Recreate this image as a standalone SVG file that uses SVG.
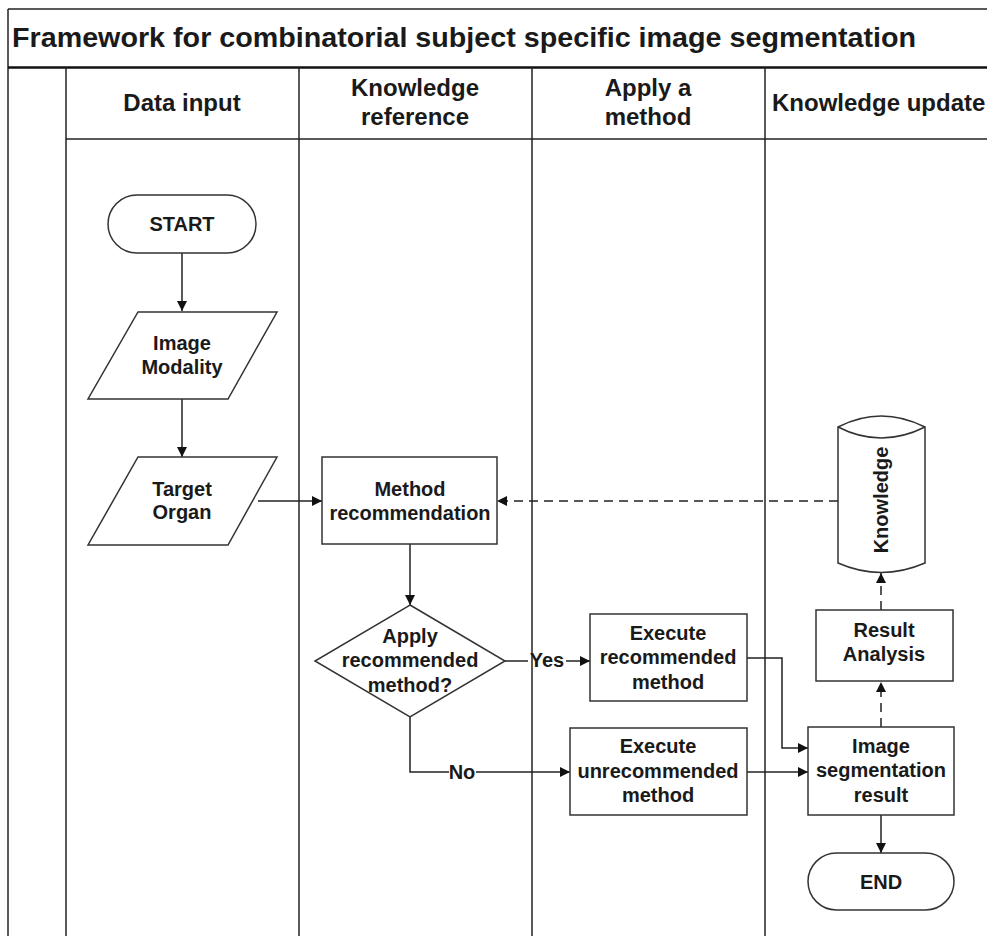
<svg xmlns="http://www.w3.org/2000/svg" width="987" height="936" viewBox="0 0 987 936">
  <defs>
    <style>
      .lane { stroke: #222; stroke-width: 1.5; fill: none; }
      .shape { fill: #fff; stroke: #333; stroke-width: 1.5; }
      .conn { stroke: #222; stroke-width: 1.5; fill: none; }
      .dash { stroke-dasharray: 9 6; }
      text { font-family: "Liberation Sans", Arial, sans-serif; font-weight: bold; fill: #1a1a1a; }
      .title { font-size: 28px; }
      .hdr { font-size: 24px; text-anchor: middle; }
      .lbl { font-size: 20px; text-anchor: middle; }
    </style>
    <marker id="arrow" viewBox="0 0 10 10" refX="10" refY="5" markerWidth="10" markerHeight="10" markerUnits="userSpaceOnUse" orient="auto">
      <path d="M0,0 L10,5 L0,10 z" fill="#111"/>
    </marker>
  </defs>

  <rect width="987" height="936" fill="#fff"/>

  <!-- pool frame and swimlanes -->
  <g id="pool">
    <line class="lane" x1="8" y1="9" x2="987" y2="9"/>
    <line class="lane" x1="8" y1="9" x2="8" y2="936"/>
    <line x1="8" y1="67.5" x2="987" y2="67.5" stroke="#111" stroke-width="2.5"/>
    <line class="lane" x1="66" y1="67" x2="66" y2="936"/>
    <line class="lane" x1="299" y1="67" x2="299" y2="936"/>
    <line class="lane" x1="532" y1="67" x2="532" y2="936"/>
    <line class="lane" x1="765" y1="67" x2="765" y2="936"/>
    <line class="lane" x1="66" y1="139" x2="987" y2="139"/>
    <text class="title" x="12" y="47" textLength="904" lengthAdjust="spacingAndGlyphs">Framework for combinatorial subject specific image segmentation</text>
    <text class="hdr" x="182" y="111">Data input</text>
    <text class="hdr" x="415" y="96">Knowledge</text>
    <text class="hdr" x="415" y="125">reference</text>
    <text class="hdr" x="648" y="96">Apply a</text>
    <text class="hdr" x="648" y="125">method</text>
    <text class="hdr" x="772" y="111" style="text-anchor:start">Knowledge update</text>
  </g>

  <!-- connectors -->
  <g id="connectors">
    <line class="conn" x1="182" y1="253" x2="182" y2="311" marker-end="url(#arrow)"/>
    <line class="conn" x1="182" y1="399" x2="182" y2="457" marker-end="url(#arrow)"/>
    <line class="conn" x1="258" y1="501" x2="322" y2="501" marker-end="url(#arrow)"/>
    <line class="conn dash" x1="838" y1="501" x2="497" y2="501" marker-end="url(#arrow)"/>
    <line class="conn" x1="410" y1="544" x2="410" y2="605" marker-end="url(#arrow)"/>
    <line class="conn" x1="505" y1="661" x2="528" y2="661"/>
    <line class="conn" x1="566" y1="661" x2="590" y2="661" marker-end="url(#arrow)"/>
    <polyline class="conn" points="410,717 410,772 449,772"/>
    <line class="conn" x1="476" y1="772" x2="570" y2="772" marker-end="url(#arrow)"/>
    <polyline class="conn" points="747,658 782,658 782,748 808,748" marker-end="url(#arrow)"/>
    <line class="conn" x1="747" y1="772" x2="808" y2="772" marker-end="url(#arrow)"/>
    <line class="conn" x1="881" y1="815" x2="881" y2="853" marker-end="url(#arrow)"/>
    <line class="conn dash" x1="881" y1="727" x2="881" y2="682" marker-end="url(#arrow)"/>
    <line class="conn dash" x1="881" y1="610" x2="881" y2="573" marker-end="url(#arrow)"/>
    <text class="lbl" x="547" y="667">Yes</text>
    <text class="lbl" x="462" y="779">No</text>
  </g>

  <g id="start">
    <rect class="shape" x="108" y="195" width="148" height="58" rx="29" ry="29"/>
    <text class="lbl" x="182" y="231">START</text>
  </g>

  <g id="image-modality">
    <polygon class="shape" points="138,312 277,312 228,399 88,399"/>
    <text class="lbl" x="182" y="350">Image</text>
    <text class="lbl" x="182" y="374">Modality</text>
  </g>

  <g id="target-organ">
    <polygon class="shape" points="138,457 277,457 228,545 88,545"/>
    <text class="lbl" x="182" y="496">Target</text>
    <text class="lbl" x="182" y="519">Organ</text>
  </g>

  <g id="method-recommendation">
    <rect class="shape" x="322" y="457" width="175" height="87"/>
    <text class="lbl" x="410" y="496">Method</text>
    <text class="lbl" x="410" y="520">recommendation</text>
  </g>

  <g id="apply-decision">
    <polygon class="shape" points="410,605 505,661 410,717 315,661"/>
    <text class="lbl" x="410" y="643">Apply</text>
    <text class="lbl" x="410" y="667">recommended</text>
    <text class="lbl" x="410" y="692">method?</text>
  </g>

  <g id="execute-recommended">
    <rect class="shape" x="590" y="614" width="157" height="87"/>
    <text class="lbl" x="668" y="640">Execute</text>
    <text class="lbl" x="668" y="664">recommended</text>
    <text class="lbl" x="668" y="689">method</text>
  </g>

  <g id="execute-unrecommended">
    <rect class="shape" x="570" y="728" width="177" height="87"/>
    <text class="lbl" x="658" y="753">Execute</text>
    <text class="lbl" x="658" y="778">unrecommended</text>
    <text class="lbl" x="658" y="802">method</text>
  </g>

  <g id="segmentation-result">
    <rect class="shape" x="808" y="727" width="146" height="88"/>
    <text class="lbl" x="881" y="753">Image</text>
    <text class="lbl" x="881" y="777">segmentation</text>
    <text class="lbl" x="881" y="802">result</text>
  </g>

  <g id="end">
    <rect class="shape" x="808" y="853" width="146" height="57" rx="28.5" ry="28.5"/>
    <text class="lbl" x="881" y="889">END</text>
  </g>

  <g id="result-analysis">
    <rect class="shape" x="816" y="610" width="137" height="71"/>
    <text class="lbl" x="884" y="637">Result</text>
    <text class="lbl" x="884" y="661">Analysis</text>
  </g>

  <g id="knowledge">
    <path class="shape" d="M838,427 Q881,405 925,427 L925,563 Q881,582 838,563 Z"/>
    <path class="shape" fill="none" d="M838,427 Q881,449 925,427"/>
    <text class="lbl" transform="translate(888,500) rotate(-90)">Knowledge</text>
  </g>
</svg>
